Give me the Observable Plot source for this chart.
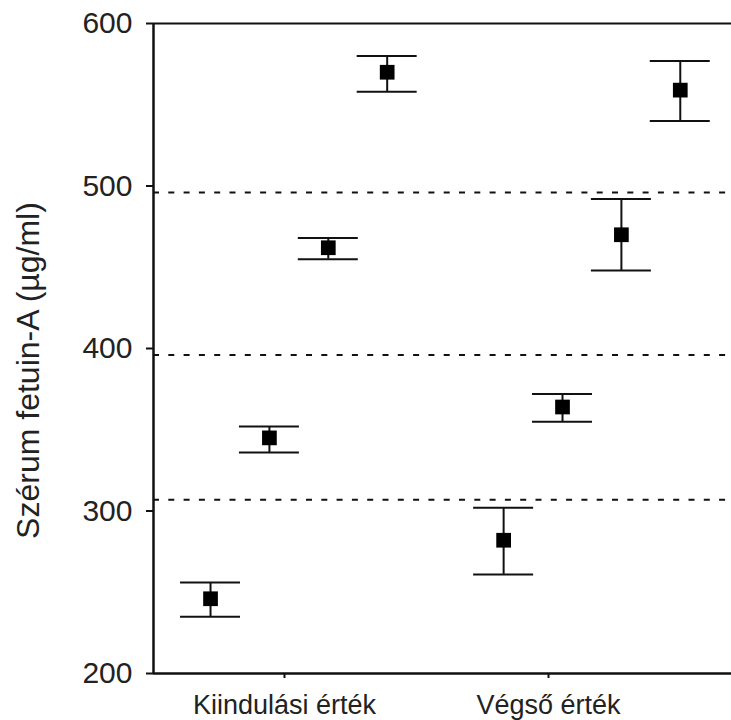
<!DOCTYPE html>
<html>
<head>
<meta charset="utf-8">
<script src="https://cdn.jsdelivr.net/npm/d3@7"></script>
<script src="https://cdn.jsdelivr.net/npm/@observablehq/plot@0.6"></script>
<style>
  html, body { margin: 0; padding: 0; background: #fff; }
  #chart svg { display: block; }
</style>
</head>
<body>
<div id="chart"></div>
<script>
// ---- data ----
const groups = ["Kiindulási érték", "Végső érték"];
const meansStart = [246, 345, 462, 570];
const upperStart = [256, 352, 468, 580];
const lowerStart = [235, 336, 455, 558];
const meansEnd = [282, 364, 470, 559];
const upperEnd = [302, 372, 492, 577];
const lowerEnd = [261, 355, 448, 540];
const cutoffs = [307, 396, 496];
const yTicks = [200, 300, 400, 500, 600];
const yLabel = "Szérum fetuin-A (µg/ml)";

// ---- layout ----
const groupShift = [-0.28, -0.17];
const step = 0.223;
const capHalf = 0.1136;

const series = [
  {m: meansStart, hi: upperStart, lo: lowerStart},
  {m: meansEnd, hi: upperEnd, lo: lowerEnd}
];
const data = [];
series.forEach((s, g) => {
  s.m.forEach((v, i) => {
    data.push({x: g + 1 + groupShift[g] + i * step, mean: v, hi: s.hi[i], lo: s.lo[i]});
  });
});

const font = "'Liberation Sans', Arial, Helvetica, sans-serif";

const chart = Plot.plot({
  width: 731,
  height: 720,
  marginTop: 23,
  marginBottom: 47,
  marginLeft: 153,
  marginRight: 0,
  style: {fontFamily: font, color: "#222", background: "#fff"},
  x: {domain: [0.504, 2.693]},
  y: {domain: [200, 600]},
  marks: [
    Plot.ruleY(cutoffs, {stroke: "#111", strokeWidth: 2, strokeDasharray: "6,9.3"}),
    Plot.ruleY([600], {stroke: "#111", strokeWidth: 2}),
    Plot.ruleY([200], {stroke: "#111", strokeWidth: 2.5}),
    Plot.ruleX([0.504], {stroke: "#111", strokeWidth: 2.5}),
    Plot.axisY({
      ticks: yTicks, tickSize: 7, tickPadding: 14, fontSize: 30,
      label: null, stroke: "#111", strokeWidth: 2, fill: "#222"
    }),
    Plot.axisX({
      ticks: [1, 2], tickFormat: d => groups[d - 1], tickSize: 5, tickPadding: 16,
      fontSize: 27, label: null, stroke: "#111", strokeWidth: 2, fill: "#222"
    }),
    Plot.text([yLabel], {
      frameAnchor: "left", textAnchor: "middle", rotate: -90, dx: -125, dy: 22,
      fontSize: 32, fill: "#222", text: d => d
    }),
    Plot.ruleX(data, {x: "x", y1: "lo", y2: "hi", stroke: "#111", strokeWidth: 2}),
    Plot.ruleY(data, {y: "hi", x1: d => d.x - capHalf, x2: d => d.x + capHalf, stroke: "#111", strokeWidth: 2}),
    Plot.ruleY(data, {y: "lo", x1: d => d.x - capHalf, x2: d => d.x + capHalf, stroke: "#111", strokeWidth: 2}),
    Plot.dot(data, {x: "x", y: "mean", symbol: "square", r: 8.3, fill: "#000", stroke: "none"})
  ]
});
document.getElementById("chart").appendChild(chart);
</script>
</body>
</html>
